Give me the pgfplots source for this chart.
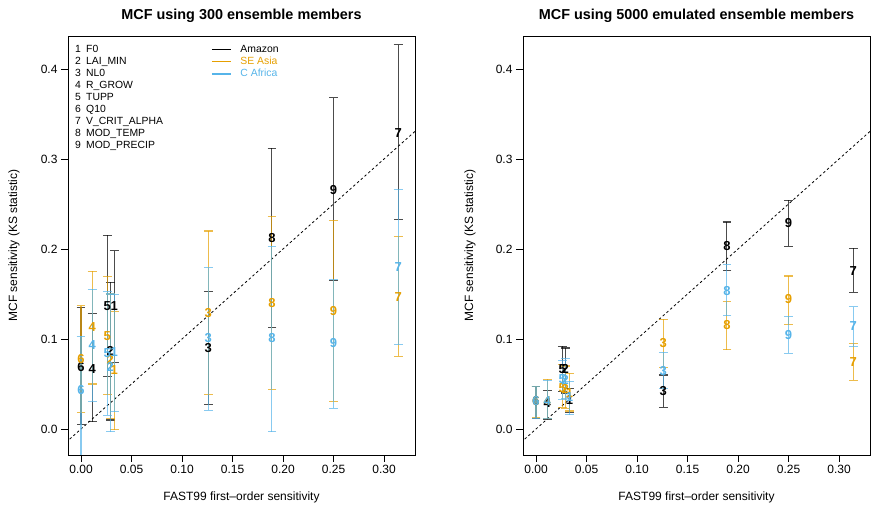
\documentclass[border=0pt]{standalone}
\usepackage{pgfplots}
\pgfplotsset{compat=1.18}
\usepackage{fontspec}
\setmainfont{Liberation Sans}
\definecolor{seasia}{HTML}{E69F00}
\definecolor{cafrica}{HTML}{56B4E9}

\pgfplotsset{
  rstyle/.style={
    scale only axis, width=347bp, height=419bp,
    xmin=-0.0129, xmax=0.3307, ymin=-0.0289, ymax=0.4367,
    axis line style={black, line width=0.8bp},
    tick align=outside, major tick length=7bp,
    tick style={black, line width=0.8bp},
    xtick={0,0.05,0.1,0.15,0.2,0.25,0.3},
    ytick={0,0.1,0.2,0.3,0.4},
    xtick pos=bottom, ytick pos=left,
    xticklabel style={/pgf/number format/.cd, fixed, fixed zerofill, precision=2, assume math mode=true},
    yticklabel style={/pgf/number format/.cd, fixed, fixed zerofill, precision=1, assume math mode=true},
    ticklabel style={font=\fontsize{12bp}{14bp}\selectfont},
    label style={font=\fontsize{12bp}{14bp}\selectfont},
    every axis title/.style={at={(axis description cs:0.5,1.0401)}, anchor=base, inner sep=0pt,
      font=\bfseries\fontsize{14.4bp}{16bp}\selectfont},
    xlabel style={at={(axis description cs:0.5,-0.1002)}, anchor=center},
    ylabel style={at={(axis description cs:-0.1556,0.5)}, anchor=center},
    xlabel={FAST99 first\textendash order sensitivity},
    ylabel={MCF sensitivity (KS statistic)},
  },
  rlegend/.style={
    legend image code/.code={\draw[##1, line width=1.3bp] (0bp,0bp) -- (19bp,0bp);},
  },
  errs/.style={
    color=#1, only marks, mark=none,
    /pgfplots/error bars/y dir=both,
    /pgfplots/error bars/y explicit,
    /pgfplots/error bars/error bar style={line width=1.1bp, opacity=0.7},
    /pgfplots/error bars/error mark options={mark size=4.4bp, line width=1.1bp, opacity=0.7, rotate=90},
  },
  labs/.style={
    nodes near coords, point meta=explicit symbolic,
    nodes near coords style={anchor=center, inner sep=0pt, text=#1, font=\bfseries\fontsize{13bp}{14bp}\selectfont},
  },
  tab/.style={
    table/x=x, table/y=y, table/meta=lab,
    table/y error plus expr=\thisrow{hi}-\thisrow{y},
    table/y error minus expr=\thisrow{y}-\thisrow{lo},
  },
}

\begin{document}
\begin{tikzpicture}[x=1bp,y=1bp]
\useasboundingbox (0,0) rectangle (871,510);
% ---------------- left panel ----------------
\begin{axis}[rstyle, at={(68bp,55bp)}, anchor=south west,
  title={MCF using 300 ensemble members},
  legend style={at={(axis description cs:0.412,0.9821)}, anchor=north west, draw=none, fill=none, inner sep=0pt,
    font=\fontsize{10.4bp}{12.1bp}\selectfont, row sep=0pt,
    nodes={inner sep=0pt, text height=8.47bp, text depth=3.63bp},
    /tikz/every odd column/.append style={column sep=9bp}},
  legend cell align=left,
  rlegend,
]
\addplot[black, line width=0.8bp, dash pattern=on 2.5bp off 2.5bp, forget plot] coordinates {(-0.1,-0.1) (0.5,0.5)};
\addplot[errs=black, labs=black, tab, forget plot] table {
lab x y lo hi
1 0.033 0.137 0.074 0.198
2 0.029 0.087 0.010 0.163
3 0.126 0.090 0.027 0.153
4 0.011 0.067 0.008 0.128
5 0.026 0.137 0.058 0.215
6 0.000 0.069 0.005 0.135
7 0.314 0.329 0.233 0.427
8 0.189 0.212 0.113 0.312
9 0.250 0.266 0.165 0.368
};
\addplot[errs=seasia, labs=seasia, tab, forget plot] table {
lab x y lo hi
1 0.033 0.065 -0.001 0.131
2 0.029 0.077 0.012 0.150
3 0.126 0.129 0.038 0.220
4 0.011 0.113 0.050 0.175
5 0.026 0.103 0.038 0.169
6 0.000 0.078 0.018 0.137
7 0.314 0.147 0.081 0.214
8 0.189 0.140 0.044 0.236
9 0.250 0.131 0.031 0.232
};
\addplot[errs=cafrica, labs=cafrica, tab, forget plot] table {
lab x y lo hi
1 0.033 0.085 0.019 0.149
2 0.029 0.069 -0.003 0.150
3 0.126 0.101 0.021 0.179
4 0.011 0.093 0.031 0.155
5 0.026 0.084 0.015 0.153
6 0.000 0.043 -0.035 0.103
7 0.314 0.180 0.094 0.266
8 0.189 0.101 -0.003 0.203
9 0.250 0.095 0.023 0.166
};
\addlegendimage{color=black}
\addlegendentry{Amazon}
\addlegendimage{color=seasia}
\addlegendentry{\textcolor{seasia}{SE Asia}}
\addlegendimage{color=cafrica}
\addlegendentry{\textcolor{cafrica}{C Africa}}
\node[anchor=north west, inner sep=0pt, font=\fontsize{10.4bp}{12.1bp}\selectfont] at (axis description cs:0.0202,0.9821) {%
\begin{tabular}{@{}l@{\hspace{5.2bp}}l@{}}
1 & F0\\
2 & LAI\_MIN\\
3 & NL0\\
4 & R\_GROW\\
5 & TUPP\\
6 & Q10\\
7 & V\_CRIT\_ALPHA\\
8 & MOD\_TEMP\\
9 & MOD\_PRECIP
\end{tabular}};
\end{axis}
% ---------------- right panel ----------------
\begin{axis}[rstyle, at={(523bp,55bp)}, anchor=south west,
  title={MCF using 5000 emulated ensemble members},
  ylabel style={at={(axis description cs:-0.1527,0.5)}},
]
\addplot[black, line width=0.8bp, dash pattern=on 2.5bp off 2.5bp, forget plot] coordinates {(-0.1,-0.1) (0.5,0.5)};
\addplot[errs=black, labs=black, tab, forget plot] table {
lab x y lo hi
1 0.033 0.032 0.018 0.045
2 0.029 0.067 0.040 0.090
3 0.126 0.042 0.024 0.060
4 0.011 0.029 0.011 0.043
5 0.026 0.067 0.042 0.092
6 0.000 0.031 0.012 0.047
7 0.314 0.176 0.152 0.201
8 0.189 0.203 0.176 0.230
9 0.250 0.229 0.203 0.254
};
\addplot[errs=seasia, labs=seasia, tab, forget plot] table {
lab x y lo hi
1 0.033 0.040 0.020 0.062
2 0.029 0.045 0.023 0.070
3 0.126 0.095 0.068 0.122
4 0.011 0.031 0.012 0.055
5 0.026 0.045 0.024 0.072
6 0.000 0.031 0.013 0.047
7 0.314 0.074 0.054 0.095
8 0.189 0.115 0.088 0.142
9 0.250 0.144 0.116 0.170
};
\addplot[errs=cafrica, labs=cafrica, tab, forget plot] table {
lab x y lo hi
1 0.033 0.035 0.016 0.053
2 0.029 0.055 0.034 0.078
3 0.126 0.064 0.045 0.085
4 0.011 0.031 0.012 0.054
5 0.026 0.055 0.033 0.076
6 0.000 0.031 0.012 0.047
7 0.314 0.114 0.092 0.136
8 0.189 0.153 0.126 0.183
9 0.250 0.104 0.084 0.125
};
\end{axis}
\end{tikzpicture}
\end{document}
